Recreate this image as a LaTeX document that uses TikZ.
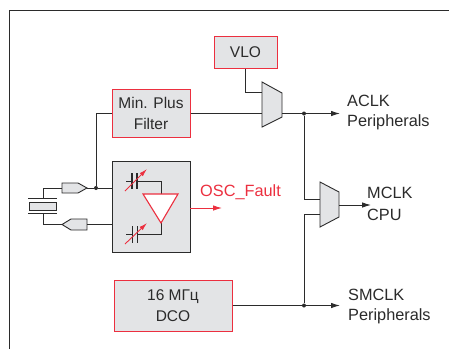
\documentclass[tikz,border=0pt]{standalone}
\usepackage{fontspec}
\setmainfont{Liberation Sans}
\usetikzlibrary{arrows.meta}
\definecolor{boxred}{HTML}{EC2F3F}
\definecolor{boxgrey}{HTML}{E3E4E6}
\definecolor{wiregrey}{HTML}{2B2B2B}
\tikzset{
  wire/.style={draw=wiregrey, line width=0.9pt},
  arrowwire/.style={wire, -{Latex[length=9pt,width=5.5pt]}},
  redbox/.style={draw=boxred, line width=1pt, fill=boxgrey, align=center, inner sep=0pt, font=\fontsize{15.5}{21}\selectfont, text=wiregrey},
  part/.style={draw=wiregrey, line width=0.9pt, fill=boxgrey},
  dot/.style={circle, fill=wiregrey, inner sep=0pt, minimum size=4pt},
  clklabel/.style={anchor=west, inner sep=0pt, align=left, font=\fontsize{16.3}{21}\selectfont, text=wiregrey},
}

\begin{document}
\begin{tikzpicture}[x=1pt, y=-1pt]
    \useasboundingbox (0,0) rectangle (449,349);
    \fill[white] (0,0) rectangle (449,349);
    \draw[draw=wiregrey, line width=1pt] (9,349) -- (9,10) -- (449,10);

    \node[redbox, minimum width=63pt, minimum height=32pt] (vlo) at (245.5,52) {VLO};
    \node[redbox, minimum width=78pt, minimum height=48pt] (filter) at (151,113.5) {Min. Plus\\Filter};
    \node[redbox, minimum width=118pt, minimum height=51pt] (dco) at (173,305.5) {16 МГц\\DCO};
    \node[part, minimum width=78pt, minimum height=91pt] (osc) at (151,206.5) {};

    % multiplexers
    \draw[part] (262,82) -- (282,93) -- (282,117) -- (262,127) -- cycle;
    \draw[part] (320,182) -- (339,192) -- (339,217) -- (320,227) -- cycle;
    \coordinate (muxa in1) at (262,92);
    \coordinate (muxa in2) at (262,113.5);
    \coordinate (muxa out) at (282,113.5);
    \coordinate (muxb in1) at (320,199);
    \coordinate (muxb in2) at (320,214);
    \coordinate (muxb out) at (339,205);

    \node[dot] (juna) at (304,113.5) {};
    \node[dot] (junb) at (304,305.5) {};
    \node[dot] (junc) at (96,188) {};

    \coordinate (aclk) at (340,113.5);
    \coordinate (mclk) at (371,205);
    \coordinate (smclk) at (340,305.5);
    \coordinate (fault) at (222,208);

    \draw[wire] (vlo.south) |- (muxa in1);
    \draw[wire] (filter.east) -- (muxa in2);
    \draw[wire] (muxa out) -- (juna);
    \draw[arrowwire] (juna) -- (aclk);
    \draw[wire] (juna) |- (muxb in1);
    \draw[wire] (junb) |- (muxb in2);
    \draw[arrowwire] (muxb out) -- (mclk);
    \draw[wire] (dco.east |- junb) -- (junb);
    \draw[arrowwire] (junb) -- (smclk);

    \node[clklabel] (aclklabel) at (347,101) {ACLK};
    \node[clklabel] (aclksub) at (347,122.5) {Peripherals};
    \node[clklabel] (mclklabel) at (367,193) {MCLK};
    \node[clklabel] (mclksub) at (367,214.5) {CPU};
    \node[clklabel] (smclklabel) at (348,295) {SMCLK};
    \node[clklabel] (smclksub) at (348,316.5) {Peripherals};
    \node[clklabel, text=boxred] (faultlabel) at (200,192) {OSC\_Fault};

    % crystal and its two drivers
    \draw[part] (62,183) -- (78,183) -- (87,188) -- (78,193) -- (62,193) -- cycle;
    \draw[part] (87,219) -- (71,219) -- (62,224.5) -- (71,230) -- (87,230) -- cycle;
    \draw[part] (29,202) rectangle (56,210);
    \draw[wire] (28,198.5) -- (57,198.5);
    \draw[wire] (28,213) -- (57,213);
    \coordinate (xtala) at (43,198.5);
    \coordinate (xtalb) at (43,213);
    \coordinate (drva in) at (62,188);
    \coordinate (drva out) at (87,188);
    \coordinate (drvb in) at (87,224.5);
    \coordinate (drvb out) at (62,224.5);
    \draw[wire] (xtala) |- (drva in);
    \draw[wire] (xtalb) |- (drvb out);
    \draw[wire] (drva out) -- (junc);
    \draw[wire] (junc) -- (osc.west |- junc);
    \draw[wire] (junc) |- (filter.west);
    \draw[wire] (drvb in) -- (osc.west |- drvb in);

    % inside the oscillator block
    \coordinate (tria) at (143,194);
    \coordinate (trib) at (178,194);
    \coordinate (tric) at (161,223);
    \draw[wire] (126,181) -- (132,181);
    \draw[wire] (137,181) -| (161,194);
    \draw[wire] (126,234.5) -- (132,234.5);
    \draw[wire] (137,234.5) -| (tric);
    \draw[draw=wiregrey, line width=1.4pt] (132,173) -- (132,189);
    \draw[draw=wiregrey, line width=1.4pt] (137,173) -- (137,189);
    \draw[draw=wiregrey, line width=1pt] (132,226) -- (132,243);
    \draw[draw=wiregrey, line width=1pt] (137,226) -- (137,243);
    \draw[draw=boxred, fill=white, line width=1.1pt] (tria) -- (trib) -- (tric) -- cycle;
    \draw[draw=boxred, line width=0.9pt, -{Latex[length=8pt,width=4.5pt]}] (125,191) -- (147,169);
    \draw[draw=boxred, line width=0.9pt, -{Latex[length=8pt,width=4.5pt]}] (125,244) -- (147,223);

    \draw[draw=boxred, line width=0.9pt, -{Latex[length=9pt,width=5.5pt]}] (osc.east |- fault) -- (fault);
  \end{tikzpicture}
\end{document}
